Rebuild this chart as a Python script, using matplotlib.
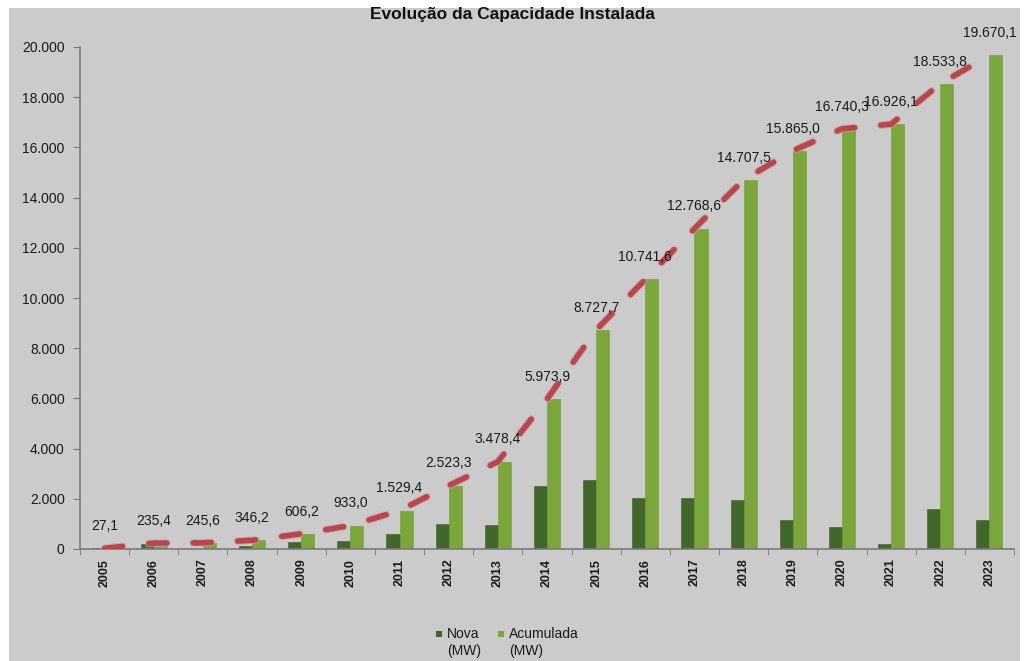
import matplotlib
matplotlib.use("Agg")
import matplotlib.pyplot as plt
import matplotlib.patheffects as pe
from matplotlib.patches import Rectangle
import numpy as np

plt.rcParams['font.family'] = ['Liberation Sans', 'DejaVu Sans']
plt.rcParams['lines.scale_dashes'] = False

years = ["2005", "2006", "2007", "2008", "2009", "2010", "2011", "2012", "2013", "2014",
         "2015", "2016", "2017", "2018", "2019", "2020", "2021", "2022", "2023"]
nova = [27.1, 208.3, 10.2, 100.6, 260.0, 326.8, 596.4, 993.9, 955.1, 2495.5,
        2753.8, 2013.9, 2027.0, 1938.9, 1157.5, 875.3, 185.8, 1607.7, 1136.3]
acumulada = [27.1, 235.4, 245.6, 346.2, 606.2, 933.0, 1529.4, 2523.3, 3478.4, 5973.9,
             8727.7, 10741.6, 12768.6, 14707.5, 15865.0, 16740.3, 16926.1, 18533.8, 19670.1]
yticks = [0, 2000, 4000, 6000, 8000, 10000, 12000, 14000, 16000, 18000, 20000]
series_names = ["Nova\n(MW)", "Acumulada\n(MW)"]
dark_green = "#41672a"
light_green = "#7ba63c"


def fmt_br(v, decimals=1):
    s = f"{v:,.{decimals}f}"
    return s.replace(",", "X").replace(".", ",").replace("X", ".")


W, H = 1026, 661
fig = plt.figure(figsize=(W / 100, H / 100), dpi=100, facecolor="white")
bg = "#cbcbcb"
fig.patches.append(Rectangle((9 / W, 0), (1020 - 9) / W, (H - 8) / H,
                             transform=fig.transFigure, facecolor=bg,
                             edgecolor="none", zorder=-10))

ax = fig.add_axes([80 / W, 1 - 549 / H, (1014 - 80) / W, (549 - 47) / H])
ax.set_facecolor("none")

x = np.arange(len(years))
bw = 0.265
ax.bar(x - bw / 2, nova, width=bw, color=dark_green, edgecolor="#3a5e22",
       linewidth=0.4, zorder=2)
ax.bar(x + bw / 2, acumulada, width=bw, color=light_green, edgecolor="#6f9a34",
       linewidth=0.4, zorder=2)

ax.plot(x, acumulada, color="#b5484e", linewidth=4.0, solid_capstyle="round",
        dash_capstyle="round", dashes=(13, 19), zorder=3,
        path_effects=[pe.Stroke(linewidth=5.5, foreground="#d9999b", alpha=0.7),
                      pe.Normal()])

for xi, v in zip(x, acumulada):
    ax.annotate(fmt_br(v), (xi, v), xytext=(0, 16), textcoords="offset points",
                ha="center", va="center", fontsize=10, color="#1a1a1a", zorder=4,
                annotation_clip=False)

ax.set_xlim(-0.5, len(years) - 0.5)
ax.set_ylim(0, 20000)
ax.set_yticks(yticks)
ax.set_yticklabels([fmt_br(v, 0) for v in yticks], fontsize=10, color="#1a1a1a")
ax.set_xticks(x)
ax.set_xticklabels(years, rotation=90, fontsize=9, fontweight="bold", color="#1a1a1a")
ax.set_xticks(np.arange(-0.5, len(years), 1.0), minor=True)
ax.tick_params(axis="x", which="major", length=0, pad=7)
ax.tick_params(axis="x", which="minor", length=4, color="#7a7a7a", direction="out")
ax.tick_params(axis="y", length=5, color="#7a7a7a", direction="out", pad=6)

for s in ("top", "right"):
    ax.spines[s].set_visible(False)
for s in ("left", "bottom"):
    ax.spines[s].set_color("#7a7a7a")
    ax.spines[s].set_linewidth(1.2)

fig.text(512 / W, 1 - 15 / H, "Evolução da Capacidade Instalada", ha="center",
         va="center", fontsize=12.5, fontweight="bold", color="#111111")

# legend below the axis: square swatch beside a two-line label
legend_items = [(436, dark_green, series_names[0]), (498, light_green, series_names[1])]
for px, col, name in legend_items:
    fig.patches.append(Rectangle((px / W, 1 - 637 / H), 6 / W, 6 / H,
                                 transform=fig.transFigure, facecolor=col,
                                 edgecolor="none"))
    fig.text((px + 11) / W, 1 - 627 / H, name, ha="left", va="top",
             fontsize=10, linespacing=1.3, color="#1a1a1a")

fig.savefig("out.png", dpi=100, facecolor="white")
